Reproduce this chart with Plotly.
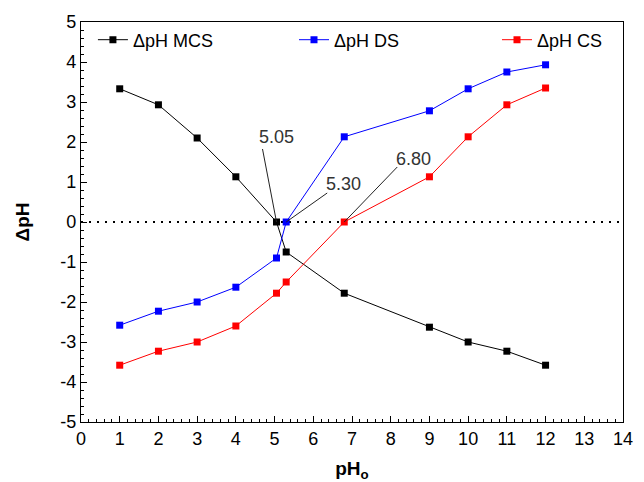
import plotly.graph_objects as go

ph0 = [1, 2, 3, 4, 5.05, 5.3, 6.8, 9, 10, 11, 12]
dph_mcs = [3.33, 2.93, 2.10, 1.13, 0.0, -0.75, -1.78, -2.63, -3.00, -3.23, -3.58]
dph_ds = [-2.58, -2.23, -2.00, -1.63, -0.90, 0.0, 2.13, 2.78, 3.33, 3.75, 3.93]
dph_cs = [-3.58, -3.23, -3.00, -2.60, -1.78, -1.50, 0.0, 1.13, 2.13, 2.93, 3.35]

x_ticks = list(range(0, 15))
y_ticks = list(range(-5, 6))
y_ticktext = [str(v) for v in y_ticks]

pzc_labels = ["5.05", "5.30", "6.80"]
pzc_x = [5.05, 5.3, 6.8]

# label placement (pixels): text shift and leader-line tail offset (x right, y up)
text_shift = [(0, 85), (57, 38), (69, 63)]
line_tail = [(-14, 73), (41, 29), (53, 55)]

font = "Liberation Sans, Arial, sans-serif"

fig = go.Figure()
series = [("ΔpH MCS", dph_mcs, "black"), ("ΔpH DS", dph_ds, "#0000ff"), ("ΔpH CS", dph_cs, "#ff0000")]
legend_ids = ["legend", "legend2", "legend3"]
for (name, ys, col), lg in zip(series, legend_ids):
    fig.add_trace(go.Scatter(x=ph0, y=ys, name=name, mode="lines+markers", legend=lg,
                             showlegend=True,
                             line=dict(color=col, width=1),
                             marker=dict(symbol="square", size=7, color=col)))

fig.add_shape(type="line", x0=0, x1=14, y0=0, y1=0, xref="x", yref="y",
              line=dict(color="black", width=2, dash="2px,6px"), layer="below")

for lab, xv, (sx, sy), (lx, ly) in zip(pzc_labels, pzc_x, text_shift, line_tail):
    fig.add_shape(type="line", xref="x", yref="y", xsizemode="pixel", ysizemode="pixel",
                  xanchor=xv, yanchor=0, x0=0, y0=0, x1=lx, y1=ly,
                  line=dict(color="#222", width=1))
    fig.add_annotation(x=xv, y=0, text=lab, showarrow=False, xshift=sx, yshift=sy,
                       font=dict(family=font, size=18, color="#333"))

axis_common = dict(showline=True, linecolor="black", linewidth=1.2, mirror=True,
                   ticks="inside", ticklen=6, tickwidth=1, tickcolor="black",
                   showgrid=False, zeroline=False,
                   tickfont=dict(family=font, size=18, color="black"))

fig.update_xaxes(range=[0, 14], tickvals=x_ticks,
                 minor=dict(ticks="inside", ticklen=3, dtick=0.2, tickcolor="black", showgrid=False),
                 title=dict(text="<b>pH<sub>o</sub></b>", font=dict(family=font, size=19, color="black"), standoff=14),
                 automargin=False, **axis_common)
fig.update_yaxes(range=[-5, 5], tickvals=y_ticks, ticktext=y_ticktext,
                 minor=dict(ticks="inside", ticklen=3, dtick=0.2, tickcolor="black", showgrid=False),
                 title=dict(text="<b>ΔpH</b>", font=dict(family=font, size=19, color="black"), standoff=25),
                 automargin=False, **axis_common)

leg_common = dict(orientation="h", yanchor="middle", xanchor="left", y=0.955,
                  bgcolor="rgba(0,0,0,0)", font=dict(family=font, size=18, color="black"))
fig.update_layout(
    width=644, height=482,
    margin=dict(l=81, r=21, t=22, b=60),
    plot_bgcolor="white", paper_bgcolor="white",
    font=dict(family=font, color="black"),
    showlegend=True,
    legend=dict(x=0.022, **leg_common),
    legend2=dict(x=0.393, **leg_common),
    legend3=dict(x=0.7675, **leg_common),
)

fig.write_html("out.html", config={"displayModeBar": False},
               post_script="document.body.style.margin='0';")
